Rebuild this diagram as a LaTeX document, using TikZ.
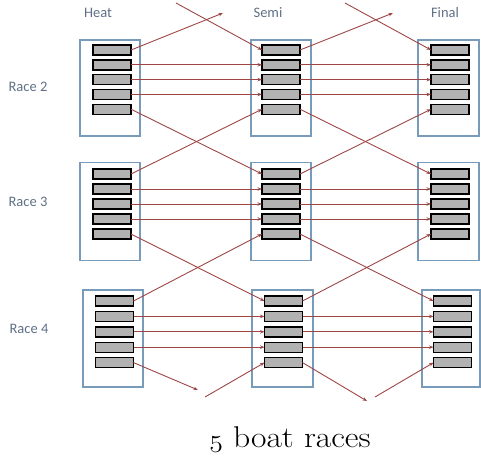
\documentclass[tikz,border=0pt]{standalone}
\usepackage{fontspec}
\usepackage{graphicx}
\newfontfamily\lblfont{Carlito}
\usetikzlibrary{arrows.meta}
\definecolor{boatgray}{RGB}{178,178,178}
\definecolor{contblue}{RGB}{120,155,185}
\definecolor{arrowred}{RGB}{158,70,70}
\definecolor{lbltext}{RGB}{95,112,135}
\tikzset{
  boat/.style={draw=black, fill=boatgray, line width=1.4pt, minimum width=38pt, minimum height=10pt, inner sep=0pt, outer sep=0pt},
  cont/.style={draw=contblue, line width=1.2pt, inner sep=0pt, outer sep=0pt},
  lbl/.style={text=lbltext, font=\lblfont\fontsize{14.5}{16}\selectfont, inner sep=0pt},
  arr/.style={draw=arrowred, line width=0.9pt, -{Stealth[length=4.5pt,width=3.5pt]}}
}
\begin{document}
\begin{tikzpicture}[x=1pt,y=-1pt]
\useasboundingbox (0,0) rectangle (481,460);
% labels
\node[lbl] (lheat) at (98,13) {Heat};
\node[lbl] (lsemi) at (268,13) {Semi};
\node[lbl] (lfinal) at (445,13) {Final};
\node[lbl] (lr2) at (28,87) {Race 2};
\node[lbl] (lr3) at (28,202) {Race 3};
\node[lbl] (lr4) at (29,329) {Race 4};
% containers
\node[cont, minimum width=60pt, minimum height=96pt] (c1h) at (110,88) {};
\node[cont, minimum width=60pt, minimum height=96pt] (c1s) at (281,88) {};
\node[cont, minimum width=61pt, minimum height=96pt] (c1f) at (448.5,88) {};
\node[cont, minimum width=60pt, minimum height=98pt] (c2h) at (110,211.5) {};
\node[cont, minimum width=60pt, minimum height=98pt] (c2s) at (281,211.5) {};
\node[cont, minimum width=61pt, minimum height=98pt] (c2f) at (448.5,211.5) {};
\node[cont, minimum width=60pt, minimum height=97pt] (c3h) at (113,338.5) {};
\node[cont, minimum width=61pt, minimum height=97pt] (c3s) at (282.5,338.5) {};
\node[cont, minimum width=58pt, minimum height=97pt] (c3f) at (451,338.5) {};
% boats
\foreach \i/\y in {1/50,2/64.8,3/79.6,4/94.4,5/109.2}{
  \node[boat] (h1b\i) at (112,\y) {};
  \node[boat] (s1b\i) at (281,\y) {};
  \node[boat] (f1b\i) at (450,\y) {};
}
\foreach \i/\y in {1/174,2/189,3/204,4/219,5/234}{
  \node[boat] (h2b\i) at (112,\y) {};
  \node[boat] (s2b\i) at (281,\y) {};
  \node[boat] (f2b\i) at (450,\y) {};
}
\foreach \i/\y in {1/301,2/316.4,3/331.8,4/347.2,5/362.6}{
  \node[boat] (h3b\i) at (114.5,\y) {};
  \node[boat] (s3b\i) at (283.5,\y) {};
  \node[boat] (f3b\i) at (452.5,\y) {};
}
% free ends
\coordinate (tOutH) at (223,13);
\coordinate (tInH) at (176,3);
\coordinate (tOutS) at (393,13);
\coordinate (tInS) at (345,3);
\coordinate (bOutH) at (198,390);
\coordinate (bInH) at (205,397);
\coordinate (bOutS) at (367,401);
\coordinate (bInS) at (375,397);
% horizontal connectors
\foreach \r in {1,2,3}{
  \foreach \i in {2,3,4}{
    \draw[arr] (h\r b\i.east) -- (s\r b\i.west);
    \draw[arr] (s\r b\i.east) -- (f\r b\i.west);
  }
}
% cross connectors
\draw[arr] (h1b1.east) -- (tOutH);
\draw[arr] (tInH) -- (s1b1.west);
\draw[arr] (s1b1.east) -- (tOutS);
\draw[arr] (tInS) -- (f1b1.west);
\draw[arr] (h1b5.east) -- (s2b1.west);
\draw[arr] (h2b1.east) -- (s1b5.west);
\draw[arr] (s1b5.east) -- (f2b1.west);
\draw[arr] (s2b1.east) -- (f1b5.west);
\draw[arr] (h2b5.east) -- (s3b1.west);
\draw[arr] (h3b1.east) -- (s2b5.west);
\draw[arr] (s2b5.east) -- (f3b1.west);
\draw[arr] (s3b1.east) -- (f2b5.west);
\draw[arr] (h3b5.east) -- (bOutH);
\draw[arr] (bInH) -- (s3b5.west);
\draw[arr] (s3b5.east) -- (bOutS);
\draw[arr] (bInS) -- (f3b5.west);
% caption
\node[inner sep=0pt, anchor=base, font=\fontsize{30}{32}\selectfont] (cap) at (290,447) {\scalebox{1.12}[1]{{\usefont{OML}{cmm}{m}{it}5} boat races}};
\end{tikzpicture}
\end{document}
